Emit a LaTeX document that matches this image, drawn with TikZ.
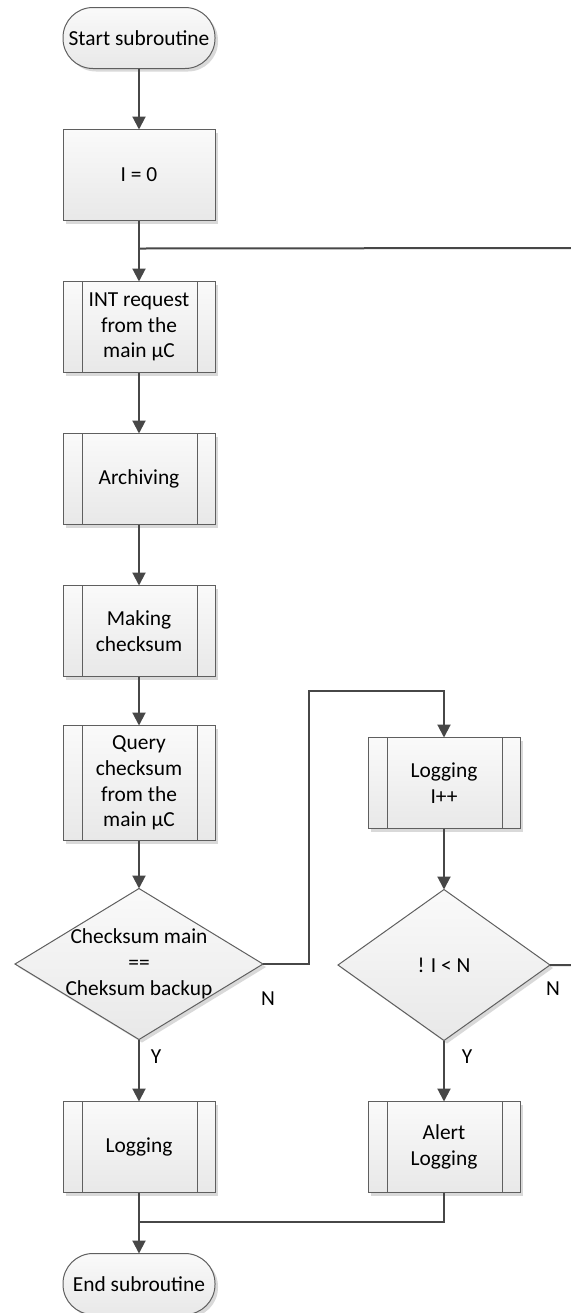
\documentclass[tikz,border=0pt]{standalone}
\usepackage{fontspec}
\setmainfont{Carlito}
\usetikzlibrary{arrows.meta,positioning,shapes.geometric,shadows}
\definecolor{linegray}{HTML}{474747}
\definecolor{boxgray}{HTML}{5F5F5F}
\newcommand\sidebars[1]{% node
  \draw[subline] ([xshift=9.5pt]#1.north west) -- ([xshift=9.5pt]#1.south west);
  \draw[subline] ([xshift=-9pt]#1.north east) -- ([xshift=-9pt]#1.south east);
}
\newcommand\nowidth[1]{\makebox[0pt]{#1}}% line wider than the diamond

\begin{document}
\begin{tikzpicture}[x=0.5pt,y=-0.5pt]
  \tikzset{
    >={Triangle[length=6.5pt,width=6.5pt]},
    node distance=30.5pt,
    base/.style={draw=boxgray,line width=0.5pt,top color=white!98!black,
      bottom color=white!91!black,align=center,inner sep=2pt,outer sep=0pt,
      font=\fontsize{10.7}{12.9}\selectfont,
      drop shadow={shadow xshift=1.5pt,shadow yshift=-1.5pt,fill=black!15,opacity=1}},
    terminal/.style={base,rounded corners=15pt,minimum width=76pt,minimum height=30.5pt},
    process/.style={base,minimum width=76pt,minimum height=45.5pt},
    decision/.style={base,diamond,inner sep=0pt,minimum height=75.5pt},
    flow/.style={->,draw=linegray,line width=1pt},
    wire/.style={draw=linegray,line width=1pt},
    subline/.style={draw=boxgray,line width=0.5pt},
    branch/.style={font=\fontsize{10.7}{12.9}\selectfont},
  }
  \useasboundingbox (0,0) rectangle (571,1313);

  \node [terminal] (start)   at (139,38)         {Start subroutine};
  \node [process]  (init)    [below=of start]    {I = 0};
  \node [process]  (intreq)  [below=of init]     {INT request\\from the\\main µC};
  \node [process]  (archive) [below=of intreq]   {Archiving};
  \node [process]  (csum)    [below=of archive]  {Making\\checksum};
  \node [process,minimum height=57.5pt] (query) [below=24.5pt of csum]
    {Query\\checksum\\from the\\main µC};
  \node [decision,minimum width=124pt] (cmp) [below=24pt of query]
    {\nowidth{Checksum main}\\\nowidth{==}\\\nowidth{Cheksum backup}};
  \node [process]  (logg)    [below=31pt of cmp] {Logging};
  \node [terminal] (stop)    [below=of logg]     {End subroutine};

  \node [process]  (logi)    [right=76.5pt of query] {Logging\\I++};
  \node [decision,minimum width=106pt] (lim) [below=of logi] {! I < N};
  \node [process]  (alert)   [below=of lim]      {Alert\\Logging};

  \foreach \p in {intreq,archive,csum,query,logg,logi,alert}
    {\sidebars{\p}}

  \coordinate [below=14pt of init.south]   (join);
  \coordinate [below=14.5pt of logg.south] (merge);
  \coordinate (turn) at (309,691);
  \coordinate (edge) at (575,248);

  \draw[flow] (start) -- (init);
  \draw[flow] (init) -- (intreq);
  \draw[flow] (intreq) -- (archive);
  \draw[flow] (archive) -- (csum);
  \draw[flow] (csum) -- (query);
  \draw[flow] (query) -- (cmp);
  \draw[flow] (cmp) -- (logg);
  \draw[flow] (logg) -- (stop);
  \draw[flow] (cmp.east) -| (turn) -| (logi.north);
  \draw[flow] (logi) -- (lim);
  \draw[flow] (lim) -- (alert);
  \draw[wire] (lim.east) -| (edge) -- (join);
  \draw[wire] (alert.south) |- (merge);

  \node [branch] (n1) at ([shift={(5,35)}]cmp.east)  {N};
  \node [branch] (y1) at ([shift={(17,17)}]cmp.south) {Y};
  \node [branch] (n2) at ([shift={(3,24)}]lim.east)  {N};
  \node [branch] (y2) at ([shift={(23,16)}]lim.south) {Y};
\end{tikzpicture}
\end{document}
